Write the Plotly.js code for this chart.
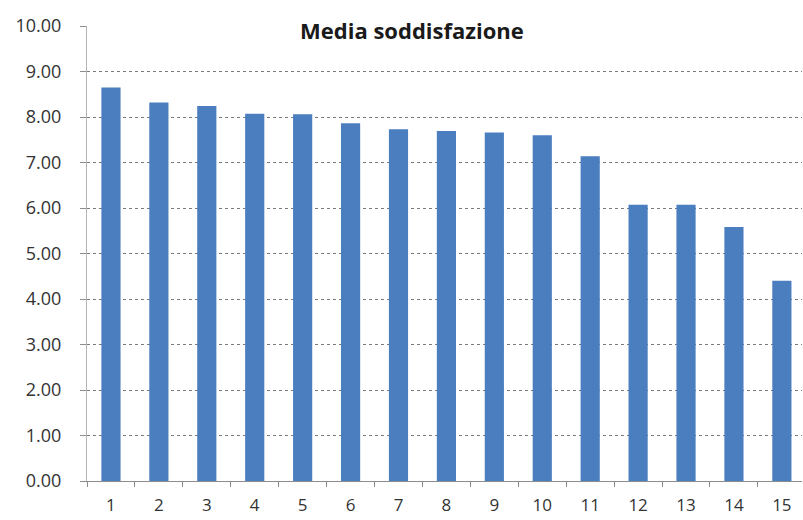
<!DOCTYPE html>
<html>
<head>
<meta charset="utf-8">
<script src="https://cdn.plot.ly/plotly-3.0.1.min.js"></script>
<style>
  html, body { margin: 0; padding: 0; background: #fff; }
  #chart { width: 803px; height: 520px; }
</style>
</head>
<body>
<div id="chart"></div>
<script>
// Average satisfaction score per item
const categories = ['1','2','3','4','5','6','7','8','9','10','11','12','13','14','15'];
const mediaValues = [8.65, 8.32, 8.24, 8.07, 8.06, 7.86, 7.73, 7.69, 7.66, 7.60, 7.14, 6.07, 6.07, 5.58, 4.40];
const yTickValues = [0, 1, 2, 3, 4, 5, 6, 7, 8, 9, 10];
const chartTitle = 'Media soddisfazione';

const trace = {
  type: 'bar',
  x: categories,
  y: mediaValues,
  marker: { color: '#4a7ebe', line: { width: 0 } },
  hoverinfo: 'x+y'
};

const layout = {
  width: 803,
  height: 520,
  margin: { l: 87, r: 1, t: 26, b: 39 },
  paper_bgcolor: '#ffffff',
  plot_bgcolor: '#ffffff',
  bargap: 0.6,
  showlegend: false,
  font: { family: '"Open Sans", "Noto Sans", sans-serif', color: '#333333', size: 18 },
  title: {
    text: '<b>' + chartTitle + '</b>',
    font: { family: '"Open Sans", "Noto Sans", sans-serif', size: 22, color: '#1a1a1a' },
    xref: 'container', yref: 'container',
    x: 0.513, xanchor: 'center',
    y: 0.94, yanchor: 'middle'
  },
  xaxis: {
    type: 'category',
    range: [-0.5, 14.42],
    showgrid: false,
    showline: true,
    linecolor: '#8c8c8c',
    linewidth: 1,
    ticks: 'outside',
    tickson: 'boundaries',
    ticklen: 5,
    tickcolor: '#8c8c8c',
    ticklabelstandoff: 9,
    tickfont: { size: 17, color: '#333333' },
    fixedrange: true
  },
  yaxis: {
    range: [0, 10],
    tickvals: yTickValues,
    tickformat: '.2f',
    showgrid: true,
    gridcolor: '#7a7a7a',
    griddash: 'dot',
    gridwidth: 1,
    zeroline: false,
    showline: true,
    linecolor: '#b4b4b4',
    linewidth: 1,
    ticks: 'outside',
    ticklen: 6,
    tickcolor: '#8c8c8c',
    ticklabelstandoff: 15,
    tickfont: { size: 18, color: '#333333' },
    fixedrange: true
  }
};

Plotly.newPlot('chart', [trace], layout, { displayModeBar: false, staticPlot: true });
</script>
</body>
</html>
